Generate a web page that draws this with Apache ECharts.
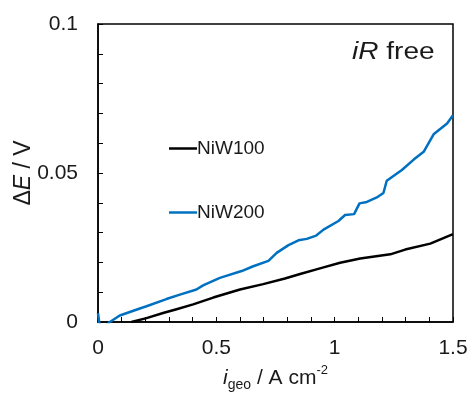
<!DOCTYPE html>
<html>
<head>
<meta charset="utf-8">
<script src="https://cdn.jsdelivr.net/npm/echarts@6/dist/echarts.min.js"></script>
<style>
  html, body { margin: 0; padding: 0; background: #fff; }
  #main { width: 470px; height: 393px; }
</style>
</head>
<body>
<div id="main"></div>
<script>
// current density (A cm-2) and potential difference (V)
const niw100X = [0.141, 0.205, 0.275, 0.332, 0.402, 0.487, 0.600, 0.698, 0.790, 0.854, 0.938, 1.023, 1.108, 1.235, 1.298, 1.404, 1.5];
const niw100Y = [0.0, 0.0013, 0.0030, 0.0043, 0.0059, 0.0082, 0.0109, 0.0127, 0.0146, 0.0161, 0.0180, 0.0199, 0.0213, 0.0227, 0.0243, 0.0263, 0.0295];

const niw200X = [0, 0.01, 0.05, 0.092, 0.183, 0.205, 0.289, 0.346, 0.416, 0.444, 0.515, 0.607, 0.656, 0.720, 0.755, 0.805, 0.847, 0.882, 0.922, 0.953, 1.016, 1.044, 1.082, 1.105, 1.136, 1.178, 1.206, 1.220, 1.284, 1.334, 1.376, 1.418, 1.475, 1.5];
const niw200Y = [0.003, -0.003, 0.0, 0.0022, 0.0047, 0.0053, 0.0077, 0.0092, 0.0109, 0.0123, 0.0148, 0.0171, 0.0187, 0.0205, 0.0232, 0.0258, 0.0274, 0.0279, 0.0290, 0.0310, 0.0339, 0.0359, 0.0362, 0.0398, 0.0403, 0.0418, 0.0433, 0.0474, 0.0510, 0.0545, 0.0571, 0.0630, 0.0666, 0.0694];

const seriesNames = ['NiW100', 'NiW200'];
const seriesColors = ['#000000', '#0070c0'];

const FONT = '"Liberation Sans", Arial, sans-serif';
const TXT = '#1a1a1a';

const chart = echarts.init(document.getElementById('main'), null, { renderer: 'canvas' });

const zip = (xs, ys) => xs.map((x, i) => [x, ys[i]]);

const option = {
  animation: false,
  grid: {
    left: 98, right: 17, top: 24, bottom: 71,
    containLabel: false,
    outerBoundsMode: 'none',
    show: true, borderColor: '#000', borderWidth: 1.5
  },
  legend: {
    orient: 'vertical',
    left: 164, top: 134,
    itemGap: 45,
    icon: 'rect',
    itemWidth: 28, itemHeight: 2.5,
    textStyle: { fontFamily: FONT, fontSize: 19, color: TXT, padding: [0, 0, 0, -5] },
    data: seriesNames
  },
  xAxis: {
    type: 'value',
    min: 0, max: 1.5, interval: 0.5,
    splitLine: { show: false },
    axisLine: { lineStyle: { color: '#000', width: 1.5 } },
    axisTick: { inside: true, length: 5, lineStyle: { color: '#000', width: 1 } },
    minorTick: { show: true, splitNumber: 5, length: 5, lineStyle: { color: '#000', width: 1 } },
    axisLabel: {
      fontFamily: FONT, fontSize: 21, color: TXT, margin: 16,
      formatter: v => String(v)
    },
    name: '{it|i}{sub|geo}{n| / A cm}{sup|-2}',
    nameLocation: 'middle',
    nameGap: 40,
    nameTextStyle: {
      fontFamily: FONT, fontSize: 20, color: TXT,
      rich: {
        it: { fontFamily: FONT, fontSize: 21, fontStyle: 'italic', color: TXT, lineHeight: 28 },
        sub: { fontFamily: FONT, fontSize: 14, color: TXT, verticalAlign: 'bottom', lineHeight: 28 },
        n: { fontFamily: FONT, fontSize: 21, color: TXT, lineHeight: 28 },
        sup: { fontFamily: FONT, fontSize: 13, color: TXT, verticalAlign: 'top', lineHeight: 28 }
      }
    }
  },
  yAxis: {
    type: 'value',
    min: 0, max: 0.1, interval: 0.05,
    splitLine: { show: false },
    axisLine: { lineStyle: { color: '#000', width: 1.5 } },
    axisTick: { inside: true, length: 5, lineStyle: { color: '#000', width: 1 } },
    minorTick: { show: true, splitNumber: 5, length: 5, lineStyle: { color: '#000', width: 1 } },
    axisLabel: {
      fontFamily: FONT, fontSize: 21, color: TXT, margin: 20,
      formatter: v => String(v)
    },
    name: '{n|Δ}{it|E}{n| / V}',
    nameLocation: 'middle',
    nameGap: 63,
    nameMoveOverlap: false,
    nameRotate: 90,
    nameTextStyle: {
      fontFamily: FONT, fontSize: 23, color: TXT,
      rich: {
        n: { fontFamily: FONT, fontSize: 23, color: TXT },
        it: { fontFamily: FONT, fontSize: 23, fontStyle: 'italic', color: TXT }
      }
    }
  },
  graphic: [{
    type: 'text',
    x: 352, y: 53,
    scaleX: 1.22,
    style: {
      text: '{it|iR}{n| free}',
      verticalAlign: 'middle',
      rich: {
        it: { fontFamily: FONT, fontSize: 23, fontStyle: 'italic', fill: TXT },
        n: { fontFamily: FONT, fontSize: 23, fill: TXT }
      }
    }
  }],
  series: [
    {
      name: seriesNames[0], type: 'line', showSymbol: false, symbol: 'none',
      color: seriesColors[0],
      lineStyle: { color: seriesColors[0], width: 2.5 },
      data: zip(niw100X, niw100Y)
    },
    {
      name: seriesNames[1], type: 'line', showSymbol: false, symbol: 'none',
      color: seriesColors[1],
      lineStyle: { color: seriesColors[1], width: 2.5 },
      data: zip(niw200X, niw200Y)
    }
  ]
};

chart.setOption(option);
</script>
</body>
</html>
